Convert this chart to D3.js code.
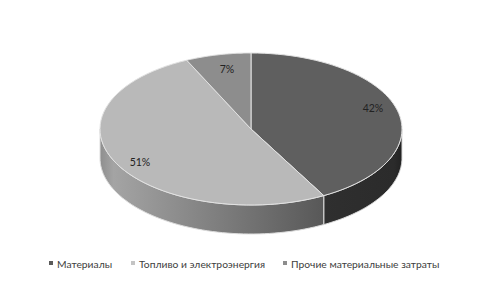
<!DOCTYPE html>
<html lang="ru">
<head>
  <meta charset="utf-8">
  <title>Структура материальных затрат</title>
  <style>
    body { margin: 0; padding: 0; background: #fff; }
    svg text { font-family: 'Lato', 'Open Sans', sans-serif; }
  </style>
</head>
<body>
  <div id="chart"></div>
  <script src="https://d3js.org/d3.v7.min.js"></script>
  <script>
    // data
    var categories = ["Материалы", "Топливо и электроэнергия", "Прочие материальные затраты"];
    var values = [42, 51, 7];
    var labels = ["42%", "51%", "7%"];
    var topColors = ["#5f5f5f", "#b9b9b9", "#8d8d8d"];
    var legendColors = ["#5a5a5a", "#c4c4c4", "#8d8d8d"];

    var width = 480, height = 288;
    var cx = 251, cy = 129, rx = 151, ry = 76, depth = 29;

    var svg = d3.select("#chart").append("svg")
      .attr("width", width)
      .attr("height", height);

    var defs = svg.append("defs");
    var g1 = defs.append("linearGradient").attr("id", "side1")
      .attr("gradientUnits", "userSpaceOnUse")
      .attr("x1", cx - rx).attr("x2", cx + 75).attr("y1", 0).attr("y2", 0);
    g1.append("stop").attr("offset", "0").attr("stop-color", "#8e8e8e");
    g1.append("stop").attr("offset", "0.06").attr("stop-color", "#a4a4a4");
    g1.append("stop").attr("offset", "1").attr("stop-color", "#575757");
    var g0 = defs.append("linearGradient").attr("id", "side0")
      .attr("gradientUnits", "userSpaceOnUse")
      .attr("x1", cx + 70).attr("x2", cx + rx).attr("y1", 0).attr("y2", 0);
    g0.append("stop").attr("offset", "0").attr("stop-color", "#2f2f2f");
    g0.append("stop").attr("offset", "0.9").attr("stop-color", "#2b2b2b");
    g0.append("stop").attr("offset", "1").attr("stop-color", "#222");
    var sideFills = ["url(#side0)", "url(#side1)", "#6a6a6a"];

    var pie = d3.pie().sort(null).value(function (d) { return d; });
    var arcs = pie(values);

    function px(a) { return cx + rx * Math.sin(a); }
    function py(a) { return cy - ry * Math.cos(a); }

    function topPath(d) {
      var p = d3.path();
      p.moveTo(cx, cy);
      p.lineTo(px(d.startAngle), py(d.startAngle));
      var n = 60;
      for (var i = 1; i <= n; i++) {
        var a = d.startAngle + (d.endAngle - d.startAngle) * i / n;
        p.lineTo(px(a), py(a));
      }
      p.closePath();
      return p.toString();
    }

    function sidePath(d) {
      var a0 = Math.max(d.startAngle, Math.PI / 2);
      var a1 = Math.min(d.endAngle, Math.PI * 1.5);
      if (a1 <= a0) return null;
      var n = 60, pts = [], i, a;
      for (i = 0; i <= n; i++) {
        a = a0 + (a1 - a0) * i / n;
        pts.push([px(a), py(a)]);
      }
      for (i = n; i >= 0; i--) {
        a = a0 + (a1 - a0) * i / n;
        pts.push([px(a), py(a) + depth]);
      }
      return "M" + pts.join("L") + "Z";
    }

    // side walls
    svg.append("g").selectAll("path")
      .data(arcs.filter(function (d) { return sidePath(d); }))
      .enter().append("path")
      .attr("d", sidePath)
      .attr("fill", function (d) { return sideFills[d.index]; })
      .attr("stroke", "#dcdcdc")
      .attr("stroke-width", 1);

    // top faces
    svg.append("g").selectAll("path")
      .data(arcs)
      .enter().append("path")
      .attr("d", topPath)
      .attr("fill", function (d) { return topColors[d.index]; })
      .attr("stroke", "#e2e2e2")
      .attr("stroke-width", 1);

    // data labels
    var labelPos = [[373, 112], [140, 166], [227, 73]];
    svg.append("g").selectAll("text")
      .data(arcs)
      .enter().append("text")
      .attr("x", function (d) { return labelPos[d.index][0]; })
      .attr("y", function (d) { return labelPos[d.index][1]; })
      .attr("text-anchor", "middle")
      .attr("font-size", 10.5)
      .attr("fill", "#222")
      .text(function (d) { return labels[d.index]; });

    // legend
    var legendX = [49, 131, 283];
    var legend = svg.append("g").selectAll("g")
      .data(categories)
      .enter().append("g")
      .attr("transform", function (d, i) { return "translate(" + legendX[i] + ",264)"; });
    legend.append("rect")
      .attr("x", 0).attr("y", -3)
      .attr("width", 4).attr("height", 4)
      .attr("fill", function (d, i) { return legendColors[i]; });
    legend.append("text")
      .attr("x", 8).attr("y", 0)
      .attr("dy", "0.35em")
      .attr("font-size", 10.3)
      .attr("fill", "#404040")
      .text(function (d) { return d; });
  </script>
</body>
</html>
